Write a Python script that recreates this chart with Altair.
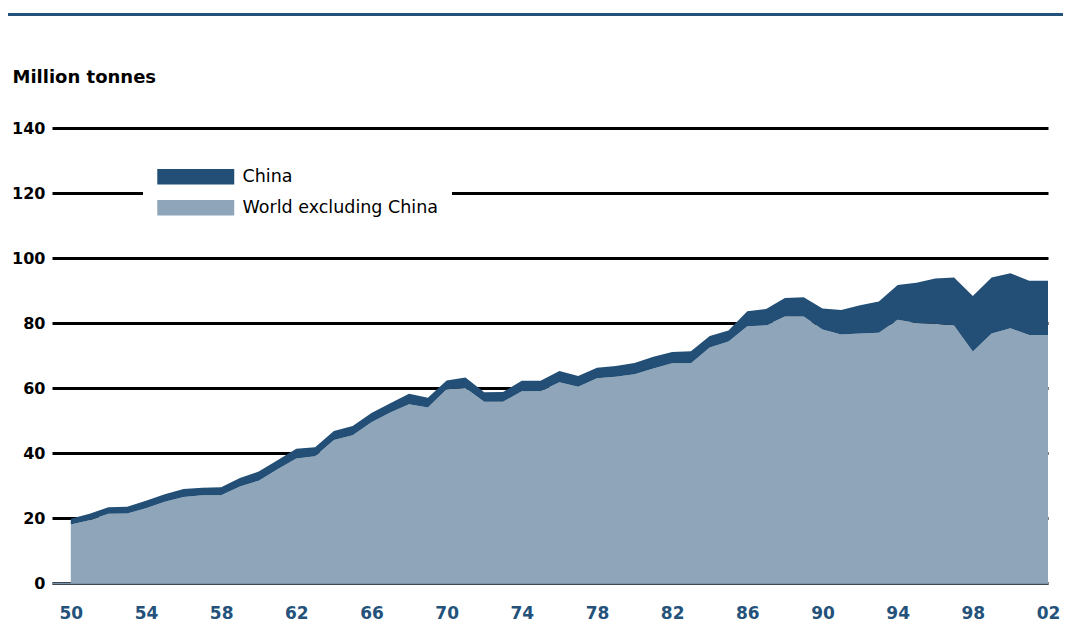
import altair as alt
import pandas as pd

years = [1950, 1951, 1952, 1953, 1954, 1955, 1956, 1957, 1958, 1959,
         1960, 1961, 1962, 1963, 1964, 1965, 1966, 1967, 1968, 1969,
         1970, 1971, 1972, 1973, 1974, 1975, 1976, 1977, 1978, 1979,
         1980, 1981, 1982, 1983, 1984, 1985, 1986, 1987, 1988, 1989,
         1990, 1991, 1992, 1993, 1994, 1995, 1996, 1997, 1998, 1999,
         2000, 2001, 2002]

world_ex_china = [18.0, 19.3, 21.3, 21.4, 23.0, 25.0, 26.5, 27.0, 27.0, 29.7,
                  31.5, 35.0, 38.3, 39.0, 44.0, 45.5, 49.5, 52.5, 55.0, 54.0,
                  59.6, 60.0, 55.8, 55.8, 59.0, 59.0, 61.8, 60.4, 63.0, 63.5,
                  64.2, 66.0, 67.6, 67.6, 72.5, 74.3, 79.0, 79.3, 82.0, 82.0,
                  78.0, 76.5, 76.8, 77.0, 81.0, 80.0, 79.8, 79.2, 71.2, 76.8,
                  78.4, 76.3, 76.3]

china = [1.8, 2.0, 2.0, 2.1, 2.3, 2.3, 2.4, 2.3, 2.5, 2.6,
         2.8, 2.8, 3.0, 2.8, 2.8, 2.8, 2.8, 2.8, 3.2, 3.0,
         2.7, 3.2, 2.9, 3.0, 3.2, 3.2, 3.4, 3.3, 3.2, 3.3,
         3.5, 3.6, 3.5, 3.7, 3.5, 3.4, 4.6, 5.0, 5.7, 5.9,
         6.5, 7.5, 8.7, 9.6, 10.7, 12.4, 13.9, 14.8, 17.1, 17.2,
         16.9, 16.7, 16.7]

series_names = ["China", "World excluding China"]
series_colors = ["#234f76", "#8fa6ba"]
y_ticks = [0, 20, 40, 60, 80, 100, 120, 140]
x_ticks = [1950, 1954, 1958, 1962, 1966, 1970, 1974, 1978, 1982, 1986,
           1990, 1994, 1998, 2002]

rows = []
for yr, w, c in zip(years, world_ex_china, china):
    rows.append({"year": yr, "series": "World excluding China", "value": w, "ord": 0})
    rows.append({"year": yr, "series": "China", "value": c, "ord": 1})
df = pd.DataFrame(rows)

FONT = "DejaVu Sans"

area = alt.Chart(df).mark_area(interpolate="linear", opacity=1).encode(
    x=alt.X("year:Q",
            scale=alt.Scale(domain=[1949, 2002], nice=False, zero=False),
            axis=alt.Axis(values=x_ticks,
                          labelExpr="substring(toString(datum.value), 2)",
                          grid=False, ticks=False, domain=True,
                          domainColor="#7b93a8", domainWidth=2,
                          labelFont=FONT, labelFontWeight="bold",
                          labelFontSize=17, labelColor="#24527a",
                          labelPadding=22, labelFlush=False, title=None)),
    y=alt.Y("value:Q", stack="zero",
            scale=alt.Scale(domain=[0, 140], nice=False),
            axis=alt.Axis(values=y_ticks, grid=True, gridColor="black",
                          gridWidth=3, domain=False, ticks=False,
                          labelPadding=7, labelFont=FONT,
                          labelFontWeight="bold", labelFontSize=16,
                          labelColor="black",
                          title="Million tonnes", titleAngle=0,
                          titleX=-40, titleY=-51, titleAlign="left",
                          titleBaseline="middle", titleFont=FONT,
                          titleFontSize=18, titleFontWeight="bold",
                          titleColor="black")),
    color=alt.Color("series:N",
                    scale=alt.Scale(domain=series_names, range=series_colors),
                    legend=alt.Legend(title=None, orient="none",
                                      legendX=91, legendY=27,
                                      direction="vertical",
                                      fillColor="white", padding=13,
                                      symbolType="M-5,-1H5V1H-5Z",
                                      symbolSize=237, symbolStrokeWidth=0,
                                      symbolOpacity=1, symbolOffset=31,
                                      labelFont=FONT, labelFontSize=17.5,
                                      labelColor="black", labelOffset=38,
                                      rowPadding=12, labelLimit=400)),
    order=alt.Order("ord:Q"),
)

rule = alt.Chart(pd.DataFrame({"k": [0]})).mark_rule(
    color="#24527a", strokeWidth=3
).encode(x=alt.value(-44), x2=alt.value(1011), y=alt.value(-113.5))

chart = alt.layer(area, rule).properties(
    width=996, height=455,
    padding={"left": 44, "top": 120, "right": 15, "bottom": 40},
    autosize=alt.AutoSizeParams(type="none"),
).configure_view(stroke=None)

chart.save("out.html", embed_options={"renderer": "svg", "actions": False})
